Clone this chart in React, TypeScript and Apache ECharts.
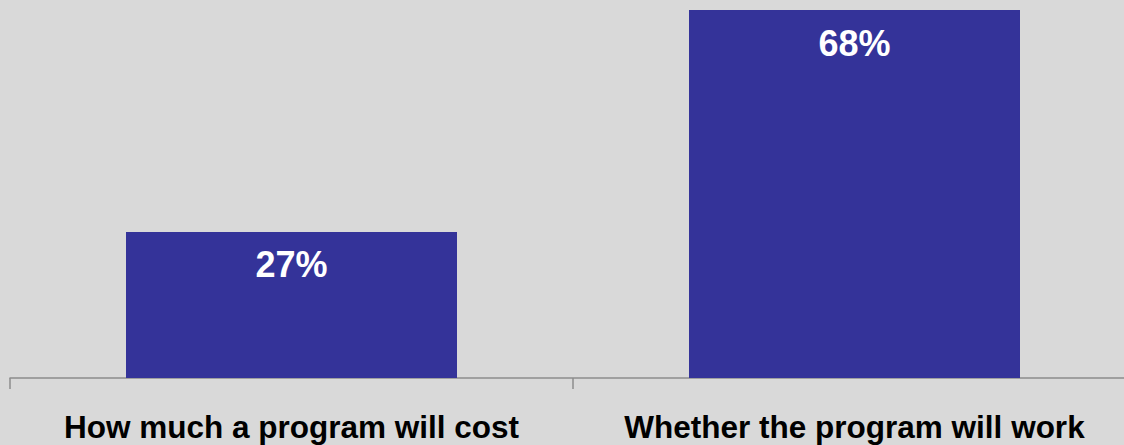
import React, { useEffect, useRef } from "react";
import * as echarts from "echarts";

const categories = ["How much a program will cost", "Whether the program will work"];
const values = [27, 68];
const valueLabels = ["27%", "68%"];

export default function App() {
  const ref = useRef<HTMLDivElement>(null);
  useEffect(() => {
    document.body.style.margin = "0";
    document.body.style.overflow = "hidden";
    document.body.style.background = "#d9d9d9";
    const chart = echarts.init(ref.current!, null, { renderer: "svg" });
    chart.setOption({
      animation: false,
      backgroundColor: "#d9d9d9",
      grid: { left: 10, right: 4, top: 10, bottom: 67, containLabel: false },
      xAxis: {
        type: "category",
        data: categories,
        axisLine: { show: true, lineStyle: { color: "#8c8c8c", width: 1.5 } },
        axisTick: { show: true, interval: 0, length: 11, lineStyle: { color: "#8c8c8c", width: 1.5 } },
        axisLabel: {
          interval: 0,
          color: "#000",
          fontFamily: "Liberation Sans, Arial, sans-serif",
          fontWeight: "bold",
          fontSize: 31.5,
          margin: 33,
        },
      },
      yAxis: {
        type: "value",
        min: 0,
        max: 68,
        show: false,
        splitLine: { show: false },
      },
      series: [
        {
          type: "bar",
          data: values,
          barWidth: 331,
          itemStyle: { color: "#343399" },
          label: {
            show: true,
            position: "insideTop",
            distance: 15,
            color: "#fff",
            fontFamily: "Liberation Sans, Arial, sans-serif",
            fontWeight: "bold",
            fontSize: 36,
            formatter: (p: any) => valueLabels[p.dataIndex],
          },
        },
      ],
    });
    return () => chart.dispose();
  }, []);
  return <div ref={ref} style={{ position: "fixed", left: 0, top: 0, width: 1140, height: 445 }} />;
}
